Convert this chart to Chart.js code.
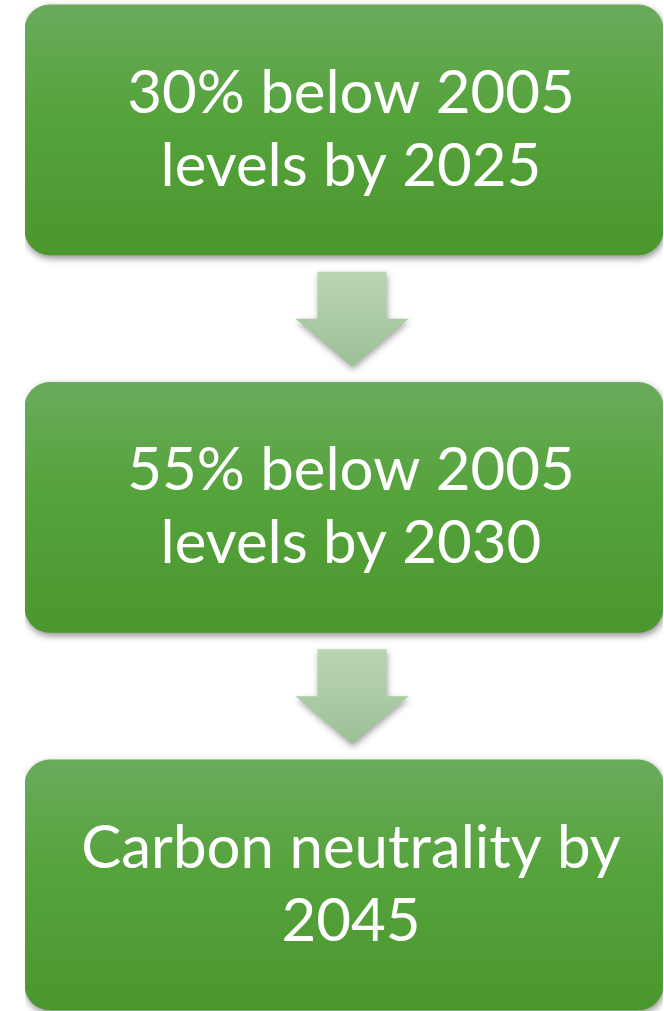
<!DOCTYPE html>
<html>
<head>
<meta charset="utf-8">
<script src="https://cdn.jsdelivr.net/npm/chart.js@4.4.1/dist/chart.umd.min.js"></script>
<style>
  html, body { margin: 0; padding: 0; background: #ffffff; }
  #wrap { position: relative; width: 664px; height: 1011px; }
</style>
</head>
<body>
<div id="wrap"><canvas id="c"></canvas></div>
<script>
// ---- data ----
const stageLines = [
  ['30% below 2005', 'levels by 2025'],
  ['55% below 2005', 'levels by 2030'],
  ['Carbon neutrality by', '2045']
];
const stagePositions = [0, 1, 2];
const stageSpan = [0, 1];

// ---- styles ----
const boxTop = '#6aab5c', boxMid = '#55a33b', boxBottom = '#4a972e';
const arrowTop = '#bad6b4', arrowBottom = '#9cc096';
const fontFamily = 'Lato, "Open Sans", sans-serif';

function boxGradient(context) {
  const chart = context.chart;
  const ys = chart.scales.y;
  if (!chart.chartArea || !ys) return boxMid;
  const c = ys.getPixelForValue(stagePositions[context.dataIndex]);
  const top = c - 125, bottom = c + 125;
  const g = chart.ctx.createLinearGradient(0, top, 0, bottom);
  g.addColorStop(0, boxTop);
  g.addColorStop(0.45, boxMid);
  g.addColorStop(1, boxBottom);
  return g;
}

const shadowPlugin = {
  id: 'shadow',
  beforeDatasetDraw(chart) {
    const ctx = chart.ctx;
    ctx.save();
    ctx.shadowColor = 'rgba(0,0,0,0.45)';
    ctx.shadowBlur = 7;
    ctx.shadowOffsetX = 1;
    ctx.shadowOffsetY = 3;
  },
  afterDatasetDraw(chart) {
    chart.ctx.restore();
  }
};

const flowPlugin = {
  id: 'flow',
  afterDatasetsDraw(chart) {
    const ctx = chart.ctx;
    const ys = chart.scales.y;
    const ca = chart.chartArea;
    const cx = (ca.left + ca.right) / 2 + 8;
    // arrows between consecutive stages
    for (let i = 0; i < stagePositions.length - 1; i++) {
      const cy = ys.getPixelForValue((stagePositions[i] + stagePositions[i + 1]) / 2);
      const top = cy - 47, bottom = cy + 48, neck = cy;
      const shaftHalf = 34.5, headHalf = 56.5;
      ctx.save();
      ctx.shadowColor = 'rgba(0,0,0,0.35)';
      ctx.shadowBlur = 6;
      ctx.shadowOffsetX = 1;
      ctx.shadowOffsetY = 3;
      const g = ctx.createLinearGradient(0, top, 0, bottom);
      g.addColorStop(0, arrowTop);
      g.addColorStop(1, arrowBottom);
      ctx.fillStyle = g;
      ctx.beginPath();
      ctx.moveTo(cx - shaftHalf, top);
      ctx.lineTo(cx + shaftHalf, top);
      ctx.lineTo(cx + shaftHalf, neck);
      ctx.lineTo(cx + headHalf, neck);
      ctx.lineTo(cx, bottom);
      ctx.lineTo(cx - headHalf, neck);
      ctx.lineTo(cx - shaftHalf, neck);
      ctx.closePath();
      ctx.fill();
      ctx.restore();
    }
    // texts
    ctx.save();
    ctx.fillStyle = '#ffffff';
    ctx.textAlign = 'center';
    ctx.textBaseline = 'alphabetic';
    ctx.font = '60px ' + fontFamily;
    stagePositions.forEach((p, i) => {
      const cy = ys.getPixelForValue(p);
      const lines = stageLines[i];
      ctx.fillText(lines[0], cx - 1, cy - 17);
      ctx.fillText(lines[1], cx - 1, cy + 56);
    });
    ctx.restore();
  }
};

new Chart(document.getElementById('c'), {
  type: 'bar',
  data: {
    datasets: [{
      data: stagePositions.map(p => ({ y: p, x: stageSpan })),
      backgroundColor: boxGradient,
      borderRadius: 25,
      borderSkipped: false,
      borderWidth: 0,
      barThickness: 250
    }]
  },
  options: {
    indexAxis: 'y',
    responsive: true,
    maintainAspectRatio: false,
    animation: false,
    events: [],
    layout: { padding: { left: 25, right: 1, top: 0, bottom: 0 } },
    plugins: { legend: { display: false }, tooltip: { enabled: false } },
    scales: {
      x: { type: 'linear', min: 0, max: 1, display: false },
      y: { type: 'linear', reverse: true, min: -0.344, max: 2.334, offset: false,
           display: false }
    }
  },
  plugins: [shadowPlugin, flowPlugin]
});
</script>
</body>
</html>
